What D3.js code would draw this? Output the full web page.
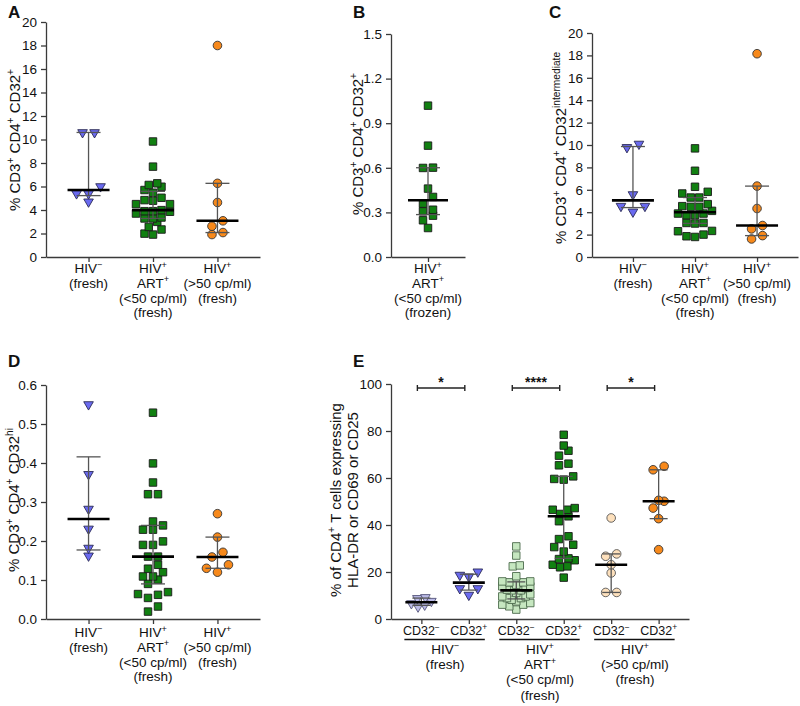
<!DOCTYPE html>
<html><head><meta charset="utf-8">
<script src="https://cdn.jsdelivr.net/npm/d3@7"></script>
<style>
body{margin:0;background:#fff}
text{font-family:"Liberation Sans",Arial,Helvetica,sans-serif;fill:#111}
</style>
</head><body>
<svg id="c" width="800" height="706" xmlns="http://www.w3.org/2000/svg"></svg>
<script>
// ---------------- DATA ----------------
const categoriesABCD = ["HIVneg", "ARTsupp", "viremic"];
const groupLabelLines = [
  ["HIV^−", "(fresh)"],
  ["HIV^+", "ART^+", "(<50 cp/ml)", "(fresh)"],
  ["HIV^+", "(>50 cp/ml)", "(fresh)"]
];
const categoryB = ["ARTfrozen"];
const groupLabelB = ["HIV^+", "ART^+", "(<50 cp/ml)", "(frozen)"];

const categoriesE = ["negM", "negP", "artM", "artP", "virM", "virP"];
const cd32Labels = ["CD32^−", "CD32^+", "CD32^−", "CD32^+", "CD32^−", "CD32^+"];
const starLabels = ["*", "****", "*"];

const panelTitles = ["A", "B", "C", "D", "E"];
const yTitleA = "% CD3^+ CD4^+ CD32^+";
const yTitleB = "% CD3^+ CD4^+ CD32^+";
const yTitleC = "% CD3^+ CD4^+ CD32^{intermediate}";
const yTitleD = "% CD3^+ CD4^+ CD32^{hi}";
const yTitleE = ["% of CD4^+ T cells expressing", "HLA-DR or CD69 or CD25"];

const ticksA = [0, 2, 4, 6, 8, 10, 12, 14, 16, 18, 20];
const ticksB = [0, 0.3, 0.6, 0.9, 1.2, 1.5];
const ticksC = [0, 2, 4, 6, 8, 10, 12, 14, 16, 18, 20];
const ticksD = [0, 0.1, 0.2, 0.3, 0.4, 0.5, 0.6];
const ticksE = [0, 20, 40, 60, 80, 100];

// Panel A: % CD3+CD4+CD32+
const A_neg = [10.6, 10.6, 6.0, 5.4, 5.4, 4.7];
const A_art = [9.83, 7.69, 5.98, 6.13, 6.27, 5.70, 5.47, 4.84, 4.50, 5.04, 4.79, 4.50, 3.85,
               3.36, 3.90, 3.90, 3.99, 3.70, 3.28, 2.99, 3.28, 2.34, 2.56, 1.91, 1.99];
const A_vir = [18.0, 6.27, 4.64, 3.08, 2.62, 2.08, 1.91];
// Panel B: frozen
const B_art = [1.018, 0.749, 0.599, 0.601, 0.460, 0.404, 0.359, 0.307, 0.318, 0.278, 0.247, 0.195];
// Panel C: CD32 intermediate
const C_neg = [9.79, 10.09, 5.58, 4.54, 4.54, 4.03];
const C_art = [9.70, 7.70, 6.27, 5.82, 5.67, 5.31, 5.31, 4.48, 4.48, 4.72, 4.54, 4.12,
               3.88, 3.88, 3.73, 3.73, 3.04, 3.04, 2.99, 2.33, 2.30, 2.00, 1.79, 1.85];
const C_vir = [18.15, 6.33, 4.33, 2.81, 2.51, 1.91, 1.61];
// Panel D: CD32 hi
const D_neg = [0.550, 0.371, 0.282, 0.231, 0.182, 0.162];
const D_art = [0.529, 0.399, 0.350, 0.320, 0.320, 0.250, 0.240, 0.229, 0.229, 0.199, 0.190, 0.190,
               0.160, 0.160, 0.139, 0.129, 0.120, 0.109, 0.109, 0.101, 0.090, 0.069, 0.064, 0.062,
               0.054, 0.032, 0.019];
const D_vir = [0.270, 0.210, 0.171, 0.159, 0.139, 0.130, 0.120];
// Panel E: activation markers
const E_negM = [9.2, 8.8, 7.6, 6.6, 6.0, 5.2];
const E_negP = [20.1, 18.7, 18.0, 13.0, 13.0, 10.2];
const E_artM = [30.9, 27.0, 22.8, 22.4, 18.2, 16.0, 16.0, 15.6, 15.6, 14.5, 13.9, 13.9, 13.2, 12.5,
                12.2, 12.2, 11.1, 10.5, 9.6, 9.6, 8.9, 8.9, 8.2, 7.5, 6.8, 6.1, 6.1, 5.4, 4.0];
const E_artP = [78.4, 73.8, 71.6, 69.5, 66.1, 65.4, 60.7, 59.6, 59.3, 47.2, 46.5, 46.5, 44.7, 43.7,
                41.6, 35.2, 34.0, 31.6, 30.6, 28.7, 25.8, 25.5, 25.0, 23.1, 22.4, 22.0, 17.6];
const E_virM = [43.0, 27.7, 26.7, 23.1, 19.6, 11.3, 11.3];
const E_virP = [65.0, 63.5, 50.5, 50.1, 47.2, 42.7, 29.5];

// ---------------- STYLE ----------------
const COL = {
  blue: "#6a6af0", lightBlue: "#b9b9e6",
  green: "#118011", lightGreen: "#c6e7c0",
  orange: "#f7891b", peach: "#fde0bc"
};
const svg = d3.select("#c");

// ---------------- HELPERS ----------------
function richText(sel, str, fs) {
  const parts = []; let i = 0, buf = "";
  while (i < str.length) {
    if (str[i] === "^") {
      if (buf) { parts.push({t: buf, s: false}); buf = ""; }
      if (str[i + 1] === "{") { const j = str.indexOf("}", i); parts.push({t: str.slice(i + 2, j), s: true}); i = j + 1; }
      else { parts.push({t: str[i + 1], s: true}); i += 2; }
    } else { buf += str[i]; i++; }
  }
  if (buf) parts.push({t: buf, s: false});
  let up = false;
  parts.forEach(p => {
    const t = sel.append("tspan").text(p.t);
    if (p.s) { t.attr("font-size", fs * 0.68); if (!up) t.attr("dy", -fs * 0.4); up = true; }
    else { t.attr("font-size", fs); if (up) t.attr("dy", fs * 0.4); up = false; }
  });
}

// Prism-style quartile
function quart(vals, p) {
  const s = vals.slice().sort((a, b) => a - b), n = s.length;
  const pos = p * (n + 1);
  if (pos <= 1) return s[0];
  if (pos >= n) return s[n - 1];
  const lo = Math.floor(pos);
  return s[lo - 1] + (pos - lo) * (s[lo] - s[lo - 1]);
}

// row-based scatter layout (Prism-like)
function swarm(values, y, cx, size, step, maxHalf) {
  const pts = values.map(v => ({v, y: y(v)})).sort((a, b) => a.v - b.v);
  const rows = []; let cur = null;
  pts.forEach(p => {
    if (!cur || Math.abs(p.y - cur[0].y) >= size * 0.9) { cur = [p]; rows.push(cur); }
    else cur.push(p);
  });
  rows.forEach(r => {
    const n = r.length;
    const st = n > 1 ? Math.min(step, 2 * maxHalf / (n - 1)) : 0;
    const slots = d3.range(n).map(i => (i - (n - 1) / 2) * st)
      .sort((a, b) => Math.abs(a) - Math.abs(b) || a - b);
    r.forEach((p, i) => { p.x = cx + slots[i]; });
  });
  return pts;
}

function drawPanel(cfg) {
  const g = svg.append("g");
  const y = d3.scaleLinear().domain([cfg.ticks[0], cfg.ticks[cfg.ticks.length - 1]]).range([cfg.y0, cfg.y1]);
  const x = d3.scalePoint().domain(cfg.cats).range([cfg.x0, cfg.x1]).padding(cfg.pad);

  // axes
  const ya = g.append("g").attr("transform", `translate(${cfg.x0},0)`)
    .call(d3.axisLeft(y).tickValues(cfg.ticks).tickFormat(d3.format(cfg.fmt)).tickSize(5).tickSizeOuter(0).tickPadding(4));
  ya.selectAll("text").attr("font-size", 13.5).style("font-family", '"Liberation Sans",Arial,sans-serif').attr("fill", "#111");
  g.append("g").attr("transform", `translate(0,${cfg.y0})`)
    .call(d3.axisBottom(x).tickSize(5).tickSizeOuter(0).tickFormat(""));
  g.selectAll(".domain, .tick line").attr("stroke", "#3a3a3a").attr("stroke-width", 1.3);

  // title letter
  g.append("text").attr("x", cfg.tx).attr("y", cfg.ty).attr("font-size", 17).attr("font-weight", "bold").text(cfg.title);

  // y titles
  const ytitles = Array.isArray(cfg.ytitle) ? cfg.ytitle : [cfg.ytitle];
  ytitles.forEach((t, i) => {
    const tt = g.append("text").attr("transform", `translate(${cfg.ytx[i]},${cfg.yty}) rotate(-90)`)
      .attr("text-anchor", "middle");
    richText(tt, t, 15);
  });

  // points
  cfg.series.forEach(s => {
    const pts = swarm(s.values, y, x(s.cat), s.size, s.step, s.maxHalf);
    let sym;
    if (s.shape === "tri") sym = d3.symbol().type(d3.symbolTriangle).size(s.area);
    else if (s.shape === "sq") sym = d3.symbol().type(d3.symbolSquare).size(s.area);
    else sym = d3.symbol().type(d3.symbolCircle).size(s.area);
    g.append("g").selectAll("path").data(pts).join("path")
      .attr("d", sym)
      .attr("transform", d => `translate(${d.x},${d.y})` + (s.shape === "tri" ? " rotate(180)" : ""))
      .attr("fill", s.fill).attr("stroke", s.stroke).attr("stroke-width", 0.9);
  });

  // median + IQR
  cfg.series.forEach(s => {
    const cx = x(s.cat);
    const q1 = quart(s.values, 0.25), q3 = quart(s.values, 0.75), med = d3.median(s.values);
    const sg = g.append("g");
    sg.append("line").attr("x1", cx).attr("x2", cx).attr("y1", y(q1)).attr("y2", y(q3)).attr("stroke", "#555").attr("stroke-width", 1.3);
    [q1, q3].forEach(v => sg.append("line").attr("x1", cx - cfg.capW / 2).attr("x2", cx + cfg.capW / 2)
      .attr("y1", y(v)).attr("y2", y(v)).attr("stroke", "#555").attr("stroke-width", 1.3));
    sg.append("line").attr("x1", cx - cfg.medW / 2).attr("x2", cx + cfg.medW / 2)
      .attr("y1", y(med)).attr("y2", y(med)).attr("stroke", "#000").attr("stroke-width", 2.6);
  });

  // category labels
  if (cfg.labels) {
    cfg.cats.forEach((c, i) => {
      cfg.labels[i].forEach((line, j) => {
        const t = g.append("text").attr("x", x(c)).attr("y", cfg.labY + j * cfg.labDy).attr("text-anchor", "middle");
        richText(t, line, 13.5);
      });
    });
  }
  return {g, x, y};
}

// ---------------- PANELS ----------------
const triBlue = {shape: "tri", area: 40, size: 8.5, step: 12, maxHalf: 16, fill: COL.blue, stroke: "#2a2a55"};
const sqGreen = {shape: "sq", area: 56, size: 8, step: 8.5, maxHalf: 17, fill: COL.green, stroke: "#1a1a1a"};
const ciOrange = {shape: "circle", area: 58, size: 8.4, step: 11, maxHalf: 16, fill: COL.orange, stroke: "#333"};

drawPanel({
  title: panelTitles[0], tx: 8, ty: 18, x0: 46, x1: 260, y0: 257, y1: 22, pad: 0.66,
  cats: categoriesABCD, ticks: ticksA, fmt: "d", ytitle: yTitleA, ytx: [20], yty: 140,
  capW: 24, medW: 42, labels: groupLabelLines, labY: 273, labDy: 14.8,
  series: [
    Object.assign({}, triBlue, {cat: "HIVneg", values: A_neg}),
    Object.assign({}, sqGreen, {cat: "ARTsupp", values: A_art}),
    Object.assign({}, ciOrange, {cat: "viremic", values: A_vir})
  ]
});

drawPanel({
  title: panelTitles[1], tx: 353, ty: 18, x0: 391, x1: 465, y0: 257, y1: 34, pad: 0.5,
  cats: categoryB, ticks: ticksB, fmt: ".1f", ytitle: yTitleB, ytx: [363], yty: 144,
  capW: 24, medW: 40, labels: [groupLabelB], labY: 273, labDy: 14.8,
  series: [Object.assign({}, sqGreen, {cat: "ARTfrozen", values: B_art, step: 10})]
});

drawPanel({
  title: panelTitles[2], tx: 549, ty: 18, x0: 592, x1: 798, y0: 257, y1: 33, pad: 0.66,
  cats: categoriesABCD, ticks: ticksC, fmt: "d", ytitle: yTitleC, ytx: [566], yty: 148,
  capW: 24, medW: 42, labels: groupLabelLines, labY: 273, labDy: 14.8,
  series: [
    Object.assign({}, triBlue, {cat: "HIVneg", values: C_neg}),
    Object.assign({}, sqGreen, {cat: "ARTsupp", values: C_art}),
    Object.assign({}, ciOrange, {cat: "viremic", values: C_vir})
  ]
});

drawPanel({
  title: panelTitles[3], tx: 8, ty: 367, x0: 46, x1: 260, y0: 619, y1: 385, pad: 0.66,
  cats: categoriesABCD, ticks: ticksD, fmt: ".1f", ytitle: yTitleD, ytx: [19], yty: 500,
  capW: 24, medW: 42, labels: groupLabelLines, labY: 637, labDy: 14.8,
  series: [
    Object.assign({}, triBlue, {cat: "HIVneg", values: D_neg}),
    Object.assign({}, sqGreen, {cat: "ARTsupp", values: D_art, step: 10}),
    Object.assign({}, ciOrange, {cat: "viremic", values: D_vir})
  ]
});

const pe = drawPanel({
  title: panelTitles[4], tx: 353, ty: 367, x0: 391, x1: 689, y0: 619, y1: 384, pad: 0.64,
  cats: categoriesE, ticks: ticksE, fmt: "d", ytitle: yTitleE, ytx: [341, 358], yty: 500,
  capW: 18, medW: 32, labels: null,
  series: [
    Object.assign({}, triBlue, {cat: "negM", values: E_negM, fill: COL.lightBlue, stroke: "#55557a", maxHalf: 10, step: 8}),
    Object.assign({}, triBlue, {cat: "negP", values: E_negP, maxHalf: 14, step: 9}),
    Object.assign({}, sqGreen, {cat: "artM", values: E_artM, fill: COL.lightGreen, stroke: "#4d6b4d", maxHalf: 14, step: 7}),
    Object.assign({}, sqGreen, {cat: "artP", values: E_artP, step: 9.5, maxHalf: 11}),
    Object.assign({}, ciOrange, {cat: "virM", values: E_virM, fill: COL.peach, stroke: "#555", step: 11}),
    Object.assign({}, ciOrange, {cat: "virP", values: E_virP, step: 11})
  ]
});

// Panel E extras: CD32 labels, group underlines, group labels, significance brackets
const xe = pe.x, ge = pe.g;
categoriesE.forEach((c, i) => {
  const t = ge.append("text").attr("x", xe(c)).attr("y", 635).attr("text-anchor", "middle");
  richText(t, cd32Labels[i], 12.5);
});
for (let k = 0; k < 3; k++) {
  const a = xe(categoriesE[2 * k]), b = xe(categoriesE[2 * k + 1]);
  ge.append("line").attr("x1", a - 17).attr("x2", b + 16).attr("y1", 639.5).attr("y2", 639.5)
    .attr("stroke", "#111").attr("stroke-width", 1.5);
  groupLabelLines[k].forEach((line, j) => {
    const t = ge.append("text").attr("x", (a + b) / 2).attr("y", 654 + j * 15.2).attr("text-anchor", "middle");
    richText(t, line, 13.5);
  });
  const by = 388, bx1 = a - 4, bx2 = b - 4;
  ge.append("line").attr("x1", bx1).attr("x2", bx2).attr("y1", by).attr("y2", by).attr("stroke", "#222").attr("stroke-width", 1.4);
  [bx1, bx2].forEach(bx => ge.append("line").attr("x1", bx).attr("x2", bx).attr("y1", by - 3).attr("y2", by + 3)
    .attr("stroke", "#222").attr("stroke-width", 1.4));
  ge.append("text").attr("x", (bx1 + bx2) / 2).attr("y", by - 1).attr("text-anchor", "middle")
    .attr("font-size", 14).attr("font-weight", "bold").text(starLabels[k]);
}
</script>
</body></html>
